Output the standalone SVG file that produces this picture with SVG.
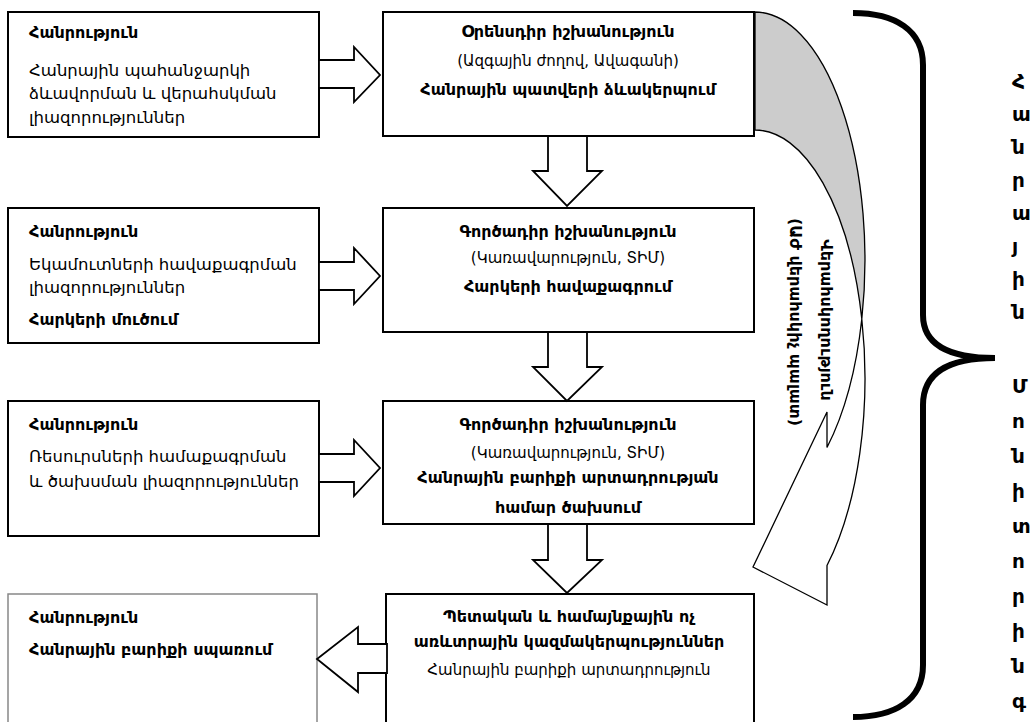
<svg xmlns="http://www.w3.org/2000/svg" width="1032" height="722" viewBox="0 0 1032 722">
<style>
text{font-family:"DejaVu Sans",sans-serif;fill:#000}
.b{font-weight:bold;font-size:16px}
.r{font-size:15px}
.rl{font-size:16.5px}
.c{text-anchor:middle}
.box{fill:#fff;stroke:#000;stroke-width:2}
.box2{fill:#fff;stroke:#888;stroke-width:1.5}
.arr{fill:#fff;stroke:#000;stroke-width:1.8;stroke-linejoin:miter}
.curve{stroke:#000;stroke-width:1.3;stroke-linejoin:miter}
.rc{font-size:20px;font-weight:bold}
</style>
<g id="n-left1"><rect class="box" x="8" y="12" width="311" height="125"/>
<text class="b" x="29" y="38">Հանրություն</text>
<text class="rl" x="29" y="76">Հանրային պահանջարկի</text>
<text class="rl" x="29" y="99">ձևավորման և վերահսկման</text>
<text class="rl" x="29" y="123">լիազորություններ</text></g>
<g id="n-left2"><rect class="box" x="8" y="208" width="311" height="135"/>
<text class="b" x="29" y="237">Հանրություն</text>
<text class="rl" x="29" y="270">Եկամուտների հավաքագրման</text>
<text class="rl" x="29" y="293">լիազորություններ</text>
<text class="b" x="29" y="325">Հարկերի մուծում</text></g>
<g id="n-left3"><rect class="box" x="8" y="401" width="311" height="135"/>
<text class="b" x="29" y="430">Հանրություն</text>
<text class="rl" x="29" y="462">Ռեսուրսների համաքագրման</text>
<text class="rl" x="29" y="487">և ծախսման լիազորություններ</text></g>
<g id="n-left4"><rect class="box2" x="8" y="594" width="309" height="150"/>
<text class="b" x="29" y="623">Հանրություն</text>
<text class="b" x="29" y="655">Հանրային բարիքի սպառում</text></g>
<g id="n-center1"><rect class="box" x="383" y="12" width="371" height="124"/>
<text class="b c" x="568" y="37">Օրենսդիր իշխանություն</text>
<text class="r c" x="568" y="66">(Ազգային ժողով, Ավագանի)</text>
<text class="b c" x="568" y="95">Հանրային պատվերի ձևակերպում</text></g>
<g id="n-center2"><rect class="box" x="383" y="208" width="371" height="124"/>
<text class="b c" x="568" y="237">Գործադիր իշխանություն</text>
<text class="r c" x="568" y="263">(Կառավարություն, ՏԻՄ)</text>
<text class="b c" x="568" y="292">Հարկերի հավաքագրում</text></g>
<g id="n-center3"><rect class="box" x="383" y="401" width="371" height="123"/>
<text class="b c" x="568" y="430">Գործադիր իշխանություն</text>
<text class="r c" x="568" y="458">(Կառավարություն, ՏԻՄ)</text>
<text class="b c" x="568" y="483">Հանրային բարիքի արտադրության</text>
<text class="b c" x="568" y="513">համար ծախսում</text></g>
<g id="n-center4"><rect class="box" x="386" y="594" width="368" height="150"/>
<text class="b c" x="569" y="622">Պետական և համայնքային ոչ</text>
<text class="b c" x="569" y="647">առևտրային կազմակերպություններ</text>
<text class="r c" x="569" y="675">Հանրային բարիքի արտադրություն</text></g>
<g id="connectors">
<polygon class="arr" points="319,60 354,60 354,47 380,75 354,102 354,88 319,88"/>
<polygon class="arr" points="319,262 354,262 354,248 380,276 354,304 354,290 319,290"/>
<polygon class="arr" points="319,454 354,454 354,440 380,468 354,496 354,482 319,482"/>
<polygon class="arr" points="548,136 587,136 587,171 602,171 567,206 533,171 548,171"/>
<polygon class="arr" points="548,332 587,332 587,367 602,367 567,401 533,367 548,367"/>
<polygon class="arr" points="548,524 587,524 587,560 602,560 567,593 533,560 548,560"/>
<polygon class="arr" points="387,644 358,644 358,627 317,659 358,692 358,673 387,673"/>
<g id="curved-arrow">
<path class="curve" fill="#cccccc" d="M755,12 A110 248 0 0 1 861.8,319 A110 248 0 0 0 755,130 Z"/>
<path class="curve" fill="#fff" d="M861.8,319 A110 248 0 0 1 827,565.5 L827,605 L753,567 L827,412 L827,447.5 A110 248 0 0 0 861.8,319 Z"/>
<text class="b" font-size="17" transform="translate(790,322) rotate(90)" text-anchor="middle">(ԱԺ վերահսկիչ պալատ)</text>
<text class="b" font-size="14" transform="translate(821,320) rotate(90)" text-anchor="middle">Վերահսկողություն</text>
</g>
</g>
<g id="brace"><path d="M853,13 C895,13 923,30 923,65 L923,315 C923,345 950,358 995,358 C950,358 923,372 923,405 L923,665 C923,700 895,717 853,717" fill="none" stroke="#000" stroke-width="6"/></g>
<g id="side-text" class="rc">
<text x="1012" y="88">Հ</text><text x="1012" y="121">ա</text><text x="1012" y="154">ն</text><text x="1012" y="187">ր</text><text x="1012" y="220">ա</text><text x="1012" y="253">յ</text><text x="1012" y="286">ի</text><text x="1012" y="319">ն</text>
<text x="1012" y="393">Մ</text><text x="1012" y="428">ո</text><text x="1012" y="463">ն</text><text x="1012" y="498">ի</text><text x="1012" y="533">տ</text><text x="1012" y="568">ո</text><text x="1012" y="603">ր</text><text x="1012" y="638">ի</text><text x="1012" y="673">ն</text><text x="1012" y="708">գ</text>
</g>
</svg>
